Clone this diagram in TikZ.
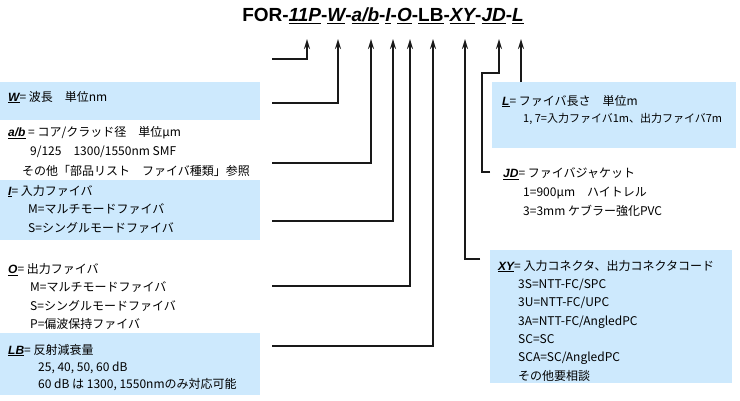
\documentclass[tikz,border=0pt]{standalone}
\usepackage{fontspec}
\setmainfont{Noto Sans CJK JP}
\newfontfamily\latinfont{Liberation Sans}
\usepackage{tikz}
\usetikzlibrary{arrows.meta}
\usepackage{xcolor}
\definecolor{boxblue}{RGB}{205, 233, 253}
\definecolor{lineblack}{RGB}{25, 25, 25}
\newcommand{\keylabel}[1]{\rule{0pt}{12pt}\underline{\latinfont\bfseries\itshape #1}}
\newcommand{\titleul}[1]{\setbox0=\hbox{#1}\rlap{\rule[-3.2pt]{\wd0}{1.6pt}}\box0}

\begin{document}
\begin{tikzpicture}[x=1pt, y=-1pt, >={Stealth[length=10pt, width=6pt]},
    conn/.style={->, line width=1.8pt, draw=lineblack},
    keybox/.style={fill=boxblue, minimum width=260pt, anchor=north west, inner sep=0pt},
    plainbox/.style={keybox, fill=none},
    txt/.style={anchor=north west, inner sep=0pt, align=left, font=\fontsize{12}{18.5}\selectfont}]
    \useasboundingbox (0,0) rectangle (740,400);
    \node[anchor=base, inner sep=0pt, font=\latinfont\bfseries\fontsize{19}{20}\selectfont] (title) at (383,21)
      {FOR-\titleul{\itshape 11P}-\titleul{\itshape W}-\titleul{\itshape a/b}-\titleul{\itshape I}-\titleul{\itshape O}-\titleul{LB}-\titleul{\itshape XY}-\titleul{\itshape JD}-\titleul{\itshape L}};
    \coordinate (p11P) at (307,39);
    \coordinate (pW) at (338,39);
    \coordinate (pAB) at (371,39);
    \coordinate (pI) at (393,39);
    \coordinate (pO) at (410,39);
    \coordinate (pLB) at (433,39);
    \coordinate (pXY) at (465,39);
    \coordinate (pJD) at (499,39);
    \coordinate (pL) at (521,39);
    \coordinate (s11P) at (272,59);

    \node[keybox, minimum height=38pt] (wbox) at (0,82) {};
    \node[plainbox, minimum height=56pt] (abbox) at (0,122) {};
    \node[keybox, minimum height=60pt] (ibox) at (0,180) {};
    \node[plainbox, minimum height=74pt] (obox) at (0,258) {};
    \node[keybox, minimum height=62pt] (lbbox) at (0,333) {};
    \node[keybox, minimum width=244pt, minimum height=66pt] (lbox) at (492,82) {};
    \node[keybox, minimum width=242pt, minimum height=133pt] (xybox) at (490,250) {};

    \node[txt] (wtxt) at (8,89) {\keylabel{W}= 波長　単位nm};
    \node[txt, font=\fontsize{12}{19.5}\selectfont] (abtxt) at (8,124) {\keylabel{a/b} = コア/クラッド径　単位μm\\
      \hspace*{22pt}9/125　1300/1550nm SMF\\
      \hspace*{14pt}その他「部品リスト　ファイバ種類」参照};
    \node[txt] (itxt) at (8,183) {\keylabel{I}= 入力ファイバ\\
      \hspace*{20pt}M=マルチモードファイバ\\
      \hspace*{20pt}S=シングルモードファイバ};
    \node[txt] (otxt) at (8,261) {\keylabel{O}= 出力ファイバ\\
      \hspace*{22pt}M=マルチモードファイバ\\
      \hspace*{22pt}S=シングルモードファイバ\\
      \hspace*{22pt}P=偏波保持ファイバ};
    \node[txt, font=\fontsize{12}{17}\selectfont] (lbtxt) at (8,342) {\keylabel{LB}= 反射減衰量\\
      \hspace*{30pt}25, 40, 50, 60 dB\\
      \hspace*{30pt}60 dB は 1300, 1550nmのみ対応可能};
    \node[txt, font=\fontsize{12}{17.5}\selectfont] (ltxt) at (502,93) {\keylabel{L}= ファイバ長さ　単位m\\
      \hspace*{21pt}{\fontsize{11}{17.5}\selectfont 1, 7=入力ファイバ1m、出力ファイバ7m}};
    \node[txt, font=\fontsize{12}{19}\selectfont] (jdtxt) at (503,165) {\keylabel{JD}= ファイバジャケット\\
      \hspace*{20pt}1=900μm　ハイトレル\\
      \hspace*{20pt}3=3mm ケブラー強化PVC};
    \node[txt, font=\fontsize{12}{18.3}\selectfont] (xytxt) at (498,258) {\keylabel{XY}= 入力コネクタ、出力コネクタコード\\
      \hspace*{20pt}3S=NTT-FC/SPC\\
      \hspace*{20pt}3U=NTT-FC/UPC\\
      \hspace*{20pt}3A=NTT-FC/AngledPC\\
      \hspace*{20pt}SC=SC\\
      \hspace*{20pt}SCA=SC/AngledPC\\
      \hspace*{20pt}その他要相談};

    \draw[conn] (s11P) -| (p11P);
    \draw[conn] ([shift={(12,2)}]wbox.east) -| (pW);
    \draw[conn] ([shift={(12,13)}]abbox.east) -| (pAB);
    \draw[conn] ([shift={(12,11)}]ibox.east) -| (pI);
    \draw[conn] ([shift={(12,-9)}]obox.east) -| (pO);
    \draw[conn] ([shift={(12,-18)}]lbbox.east) -| (pLB);
    \draw[conn] ([shift={(-10,9)}]xybox.north west) -| (pXY);
    \draw[conn] ([shift={(-13,7)}]jdtxt.north west) -| ++(-8,-99) -| (pJD);
    \draw[conn] (lbox.north -| pL) -- (pL);
  \end{tikzpicture}
\end{document}
